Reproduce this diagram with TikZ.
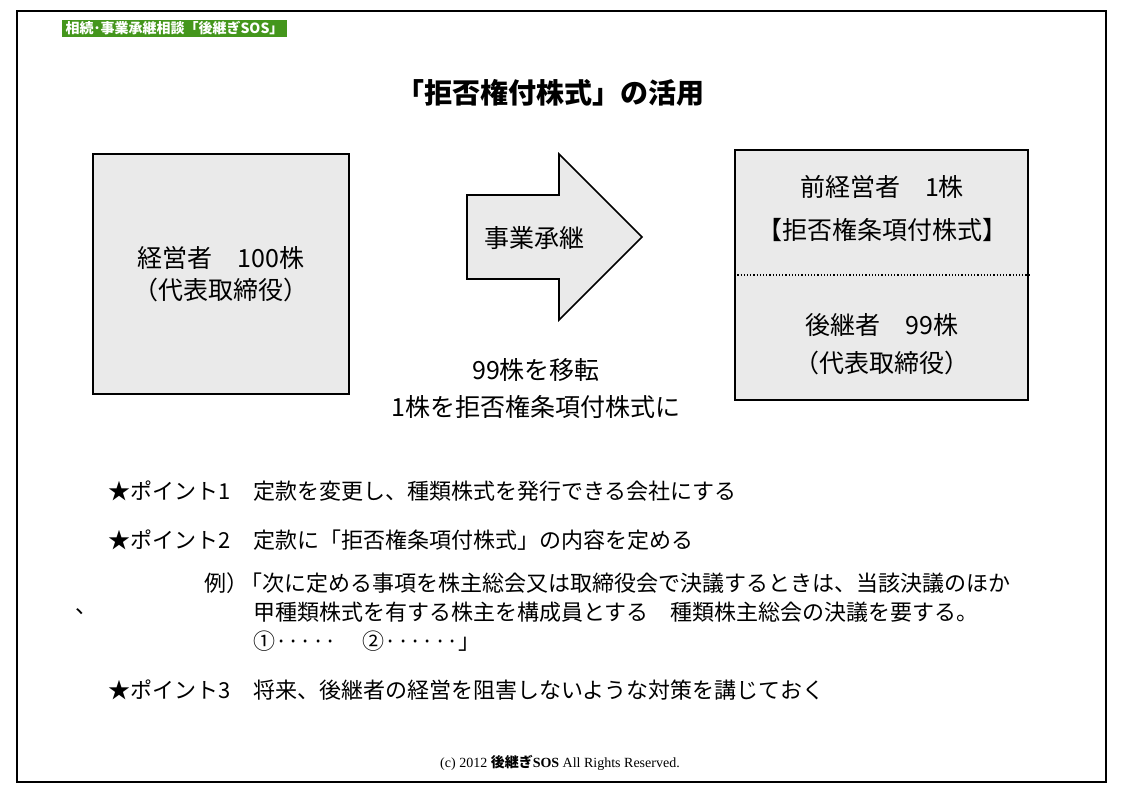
\documentclass[tikz,border=0pt]{standalone}
\usepackage{fontspec}
\setmainfont{Noto Sans CJK JP}
\newfontfamily\latinserif{Liberation Serif}
\usepackage{xcolor}
\usepackage{tikz}
\definecolor{cpanel}{RGB}{234,234,234}
\definecolor{cbadge}{RGB}{68,150,28}

\begin{document}
\begin{tikzpicture}[x=1pt,y=-1pt,
  panel/.style={draw,line width=1.6pt,fill=cpanel},
  big/.style={font=\fontsize{25}{32}\selectfont,align=center},
  body/.style={font=\fontsize{22}{26}\selectfont,anchor=west,inner sep=0pt},
]
\useasboundingbox (0,0) rectangle (1122,793);
\draw[line width=1.5pt] (17,11) rectangle (1106,782);
\node[fill=cbadge,text=white,font=\bfseries\fontsize{14}{14}\selectfont,minimum width=225pt,minimum height=17pt,inner sep=0pt] (badge) at (174.5,28.5) {相続･事業承継相談「後継ぎSOS」};
\node[font=\bfseries\fontsize{28}{32}\selectfont] (title) at (550,93) {「拒否権付株式」の活用};

\node[panel,big,minimum width=256pt,minimum height=240pt] (owner) at (221,274) {経営者　100株\\（代表取締役）};

\draw[line width=1.6pt,fill=cpanel] (467,195) -- (559,195) -- (559,154) -- (642,237) -- (559,320) -- (559,279) -- (467,279) -- cycle;
\node[big] (handover) at (534,238) {事業承継};
\node[big] (move) at (536,370) {99株を移転};
\node[big] (convert) at (536,407) {1株を拒否権条項付株式に};

\node[panel,minimum width=293pt,minimum height=250pt] (after) at (881.5,275) {};
\draw[dotted,line width=1.2pt] (after.west) -- (after.east);
\node[big] (former) at (882,187) {前経営者　1株};
\node[big] (veto) at (882,230) {【拒否権条項付株式】};
\node[big] (heir) at (882,325) {後継者　99株};
\node[big] (heirrole) at (882,363) {（代表取締役）};

\node[body] (p1) at (108,491) {★ポイント1};
\node[body] (p1t) at (253,491) {定款を変更し、種類株式を発行できる会社にする};
\node[body] (p2) at (108,540) {★ポイント2};
\node[body] (p2t) at (253,540) {定款に「拒否権条項付株式」の内容を定める};
\node[body,anchor=east] (ex) at (249,583) {例）};
\node[body] (q1) at (240,583) {「次に定める事項を株主総会又は取締役会で決議するときは、当該決議のほか};
\node[body] (stray) at (75,612) {、};
\node[body] (q2) at (253,612) {甲種類株式を有する株主を構成員とする　種類株主総会の決議を要する。};
\node[body] (q3) at (253,641) {①·····\hspace{26pt}②······」};
\node[body] (p3) at (108,690) {★ポイント3};
\node[body] (p3t) at (253,690) {将来、後継者の経営を阻害しないような対策を講じておく};

\node[font=\fontsize{14}{16}\selectfont] (copy) at (560,763) {{\latinserif (c) 2012 }\textbf{後継ぎ}{\latinserif\bfseries SOS}{\latinserif{} All Rights Reserved.}};
\end{tikzpicture}
\end{document}
